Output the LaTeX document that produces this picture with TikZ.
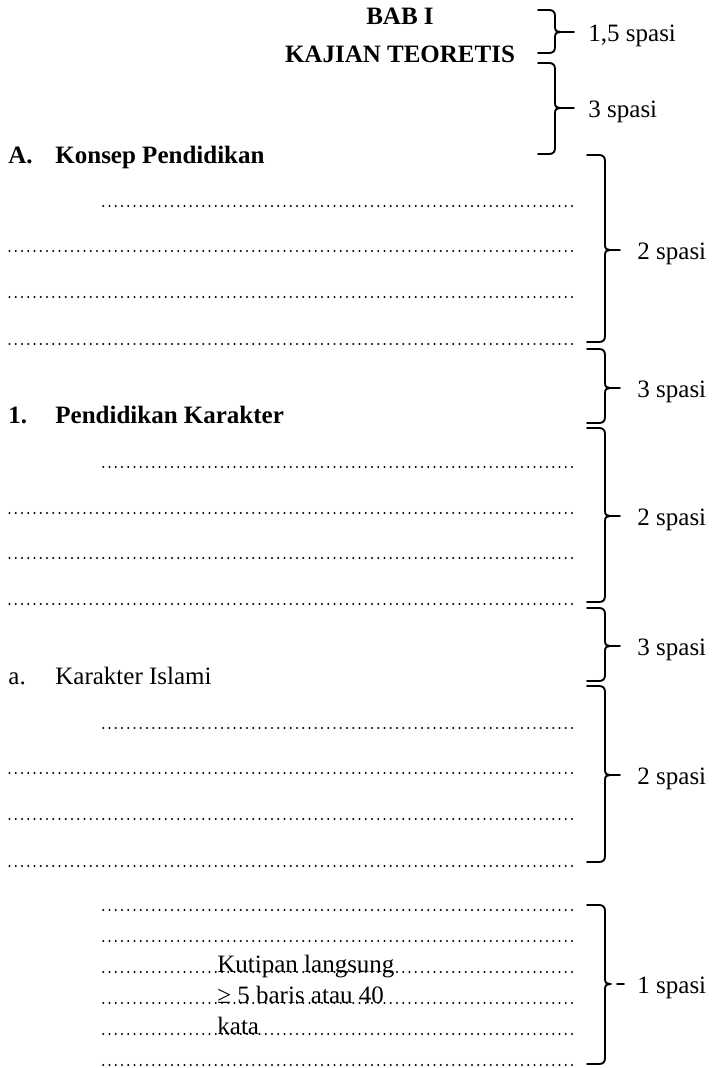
\documentclass[tikz,border=0pt]{standalone}
\usepackage{fontspec}
\setmainfont{Liberation Serif}
\newcommand{\mybrace}[6]{% x0 xv xt yt ym yb
  \draw[brc] (#1,#4) -- ({#2-6},#4) .. controls ({#2-2},#4) and (#2,{#4+2}) .. (#2,{#4+6})
    -- (#2,{#5-5}) .. controls (#2,{#5-1}) and ({#2+2},#5) .. ({#2+5},#5) -- (#3,#5);
  \draw[brc] ({#2+5},#5) .. controls ({#2+2},#5) and (#2,{#5+1}) .. (#2,{#5+5})
    -- (#2,{#6-6}) .. controls (#2,{#6-2}) and ({#2-2},#6) .. ({#2-6},#6) -- (#1,#6);}
\begin{document}
\begin{tikzpicture}[x=0.48pt,y=-0.48pt,
  txt/.style={inner sep=0pt, font=\fontsize{12pt}{14pt}\selectfont},
  bold/.style={inner sep=0pt, font=\fontsize{12pt}{14pt}\selectfont\bfseries},
  dotline/.style={line width=1.05pt, line cap=round, dash pattern=on 0pt off 3pt},
  brc/.style={line width=0.9pt, line cap=round}]
\useasboundingbox (0,0) rectangle (713,1068);

% headings
\node[bold, anchor=base] (bab) at (400,25) {BAB I};
\node[bold, anchor=base] (kajian) at (400,62) {KAJIAN TEORETIS};
\node[bold, anchor=base west] (Anum) at (8,163) {A.};
\node[bold, anchor=base west] (Atitle) at (55,163) {Konsep Pendidikan};
\node[bold, anchor=base west] (n1) at (8,423) {1.};
\node[bold, anchor=base west] (t1) at (55,423) {Pendidikan Karakter};
\node[txt, anchor=base west] (na) at (8,684) {a.};
\node[txt, anchor=base west] (ta) at (55,684) {Karakter Islami};

% dotted text lines
\foreach \y/\xs in {206/103,251/8,297/8,344/8,
                    467/103,513/8,558/8,604/8,
                    728/103,773/8,819/8,866/8,
                    910/103,941/103,972/103,1003/103,1034/103,1065/103}
  \draw[dotline] (572,\y) -- (\xs,\y);

% quotation note
\node[txt, anchor=base west] (q1) at (217,972) {Kutipan langsung};
\node[txt, anchor=base west] (q2) at (217,1003) {≥ 5 baris atau 40};
\node[txt, anchor=base west] (q3) at (217,1034) {kata};

% braces
\mybrace{538}{555}{574}{10}{32}{53}
\mybrace{538}{555}{574}{63}{108}{154}
\mybrace{587}{605}{620}{155}{250}{342}
\mybrace{587}{605}{620}{349}{388}{423}
\mybrace{587}{605}{620}{428}{516}{602}
\mybrace{587}{605}{620}{608}{646}{681}
\mybrace{587}{605}{620}{686}{775}{862}
\mybrace{587}{605}{611}{905}{984}{1064}
\draw[brc] (617,984) -- (624,984);

% brace labels
\node[txt, anchor=base west] (l1) at (588,41) {1,5 spasi};
\node[txt, anchor=base west] (l2) at (588,117) {3 spasi};
\node[txt, anchor=base west] (l3) at (637,259) {2 spasi};
\node[txt, anchor=base west] (l4) at (637,397) {3 spasi};
\node[txt, anchor=base west] (l5) at (637,525) {2 spasi};
\node[txt, anchor=base west] (l6) at (637,655) {3 spasi};
\node[txt, anchor=base west] (l7) at (637,784) {2 spasi};
\node[txt, anchor=base west] (l8) at (637,993) {1 spasi};
\end{tikzpicture}
\end{document}
